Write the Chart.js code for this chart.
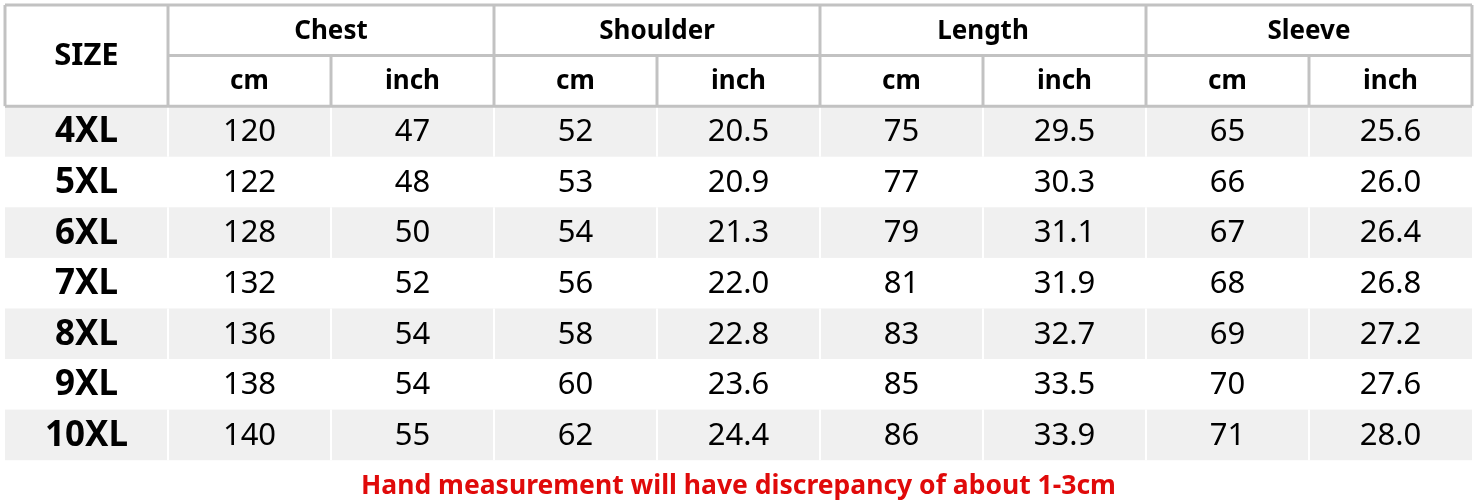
<!DOCTYPE html>
<html>
<head>
<meta charset="utf-8">
<script src="https://cdn.jsdelivr.net/npm/chart.js@4/dist/chart.umd.min.js"></script>
<style>
  html, body { margin: 0; padding: 0; background: #fff; }
  canvas { display: block; }
</style>
</head>
<body>
<canvas id="tabela" width="1477" height="502"></canvas>
<script>
// dados da tabela de medidas
const sizes = ["4XL", "5XL", "6XL", "7XL", "8XL", "9XL", "10XL"];
const groups = ["Chest", "Shoulder", "Length", "Sleeve"];
const units = ["cm", "inch"];

const chestCm = [120, 122, 128, 132, 136, 138, 140];
const chestInch = [47, 48, 50, 52, 54, 54, 55];
const shoulderCm = [52, 53, 54, 56, 58, 60, 62];
const shoulderInch = [20.5, 20.9, 21.3, 22.0, 22.8, 23.6, 24.4];
const lengthCm = [75, 77, 79, 81, 83, 85, 86];
const lengthInch = [29.5, 30.3, 31.1, 31.9, 32.7, 33.5, 33.9];
const sleeveCm = [65, 66, 67, 68, 69, 70, 71];
const sleeveInch = [25.6, 26.0, 26.4, 26.8, 27.2, 27.6, 28.0];

const nota = "Hand measurement will have discrepancy of about 1-3cm";

const HEADER_ROWS = 2;
const fonte = "'Noto Sans', 'Open Sans', sans-serif";

// colunas de valores, na ordem da tabela
const colunas = [
  { vals: chestCm, dec: 0 },
  { vals: chestInch, dec: 0 },
  { vals: shoulderCm, dec: 0 },
  { vals: shoulderInch, dec: 1 },
  { vals: lengthCm, dec: 0 },
  { vals: lengthInch, dec: 1 },
  { vals: sleeveCm, dec: 0 },
  { vals: sleeveInch, dec: 1 },
];
const totalCols = 1 + colunas.length;
const totalRows = HEADER_ROWS + sizes.length;

// monta os datasets (um ponto por célula, no centro dela)
const datasets = [];

// cabeçalho
datasets.push({
  label: "size",
  data: [{ x: 0.5, y: HEADER_ROWS / 2 }],
  textos: ["SIZE"],
  fontSize: 31,
  bold: true,
});
datasets.push({
  label: "groups",
  data: groups.map((g, i) => ({ x: 1 + i * 2 + 1, y: 0.5 })),
  textos: groups,
  fontSize: 26,
  bold: true,
});
const unitPts = [];
const unitTxt = [];
groups.forEach((g, i) => {
  units.forEach((u, k) => {
    unitPts.push({ x: 1 + i * 2 + k + 0.5, y: 1.5 });
    unitTxt.push(u);
  });
});
datasets.push({
  label: "units",
  data: unitPts,
  textos: unitTxt,
  fontSize: 26,
  bold: true,
});

// coluna dos tamanhos
datasets.push({
  label: "sizes",
  data: sizes.map((s, i) => ({ x: 0.5, y: HEADER_ROWS + i + 0.5 })),
  textos: sizes,
  fontSize: 35,
  bold: true,
});

// valores
colunas.forEach((c, j) => {
  datasets.push({
    label: "col" + j,
    data: c.vals.map((v, i) => ({ x: 1 + j + 0.5, y: HEADER_ROWS + i + 0.5 })),
    textos: c.vals.map((v) => v.toFixed(c.dec)),
    fontSize: 31,
    bold: false,
  });
});

datasets.forEach((d) => {
  d.pointRadius = 0;
  d.pointHoverRadius = 0;
  d.showLine = false;
});

// desenha fundos e linhas da tabela usando as escalas
const gradePlugin = {
  id: "grade",
  beforeDatasetsDraw(chart) {
    const ctx = chart.ctx;
    const xs = chart.scales.x;
    const ys = chart.scales.y;
    const px = (v) => xs.getPixelForValue(v);
    const py = (v) => ys.getPixelForValue(v);

    ctx.save();
    // linhas cinzas (zebra)
    sizes.forEach((s, i) => {
      if (i % 2 !== 0) return;
      const r = HEADER_ROWS + i;
      ctx.fillStyle = "#f0f0f0";
      ctx.fillRect(px(0), py(r), px(totalCols) - px(0), py(r + 1) - py(r));
      ctx.strokeStyle = "#ffffff";
      ctx.lineWidth = 2;
      for (let c = 1; c < totalCols; c++) {
        ctx.beginPath();
        ctx.moveTo(px(c), py(r));
        ctx.lineTo(px(c), py(r + 1));
        ctx.stroke();
      }
    });

    // bordas do cabeçalho
    ctx.strokeStyle = "#c2c2c2";
    ctx.lineWidth = 3;
    const linha = (x1, y1, x2, y2) => {
      ctx.beginPath();
      ctx.moveTo(px(x1), py(y1));
      ctx.lineTo(px(x2), py(y2));
      ctx.stroke();
    };
    linha(0, 0, totalCols, 0);
    linha(1, 1, totalCols, 1);
    linha(0, HEADER_ROWS, totalCols, HEADER_ROWS);
    linha(0, 0, 0, HEADER_ROWS);
    for (let g = 0; g <= groups.length; g++) {
      linha(1 + g * 2, 0, 1 + g * 2, HEADER_ROWS);
    }
    for (let g = 0; g < groups.length; g++) {
      linha(2 + g * 2, 1, 2 + g * 2, HEADER_ROWS);
    }
    ctx.restore();
  },
  afterDatasetsDraw(chart) {
    const ctx = chart.ctx;
    ctx.save();
    ctx.fillStyle = "#000";
    ctx.textAlign = "center";
    ctx.textBaseline = "middle";
    chart.data.datasets.forEach((d, di) => {
      const meta = chart.getDatasetMeta(di);
      ctx.font = (d.bold ? "bold " : "") + d.fontSize + "px " + fonte;
      meta.data.forEach((el, k) => {
        ctx.fillText(d.textos[k], el.x, el.y + 1);
      });
    });
    ctx.restore();
  },
};

const chart = new Chart(document.getElementById("tabela").getContext("2d"), {
  type: "scatter",
  data: { datasets: datasets },
  plugins: [gradePlugin],
  options: {
    responsive: false,
    animation: false,
    events: [],
    layout: { padding: { left: 5, right: 5, top: 5, bottom: 0 } },
    scales: {
      x: { type: "linear", min: 0, max: totalCols, display: false },
      y: { type: "linear", min: 0, max: totalRows, reverse: true, display: false },
    },
    plugins: {
      legend: { display: false },
      tooltip: { enabled: false },
      title: {
        display: true,
        position: "bottom",
        text: nota,
        color: "#e00a0a",
        font: { family: fonte, size: 26.5, weight: "bold" },
        padding: { top: 10, bottom: 0 },
      },
    },
  },
});
</script>
</body>
</html>
